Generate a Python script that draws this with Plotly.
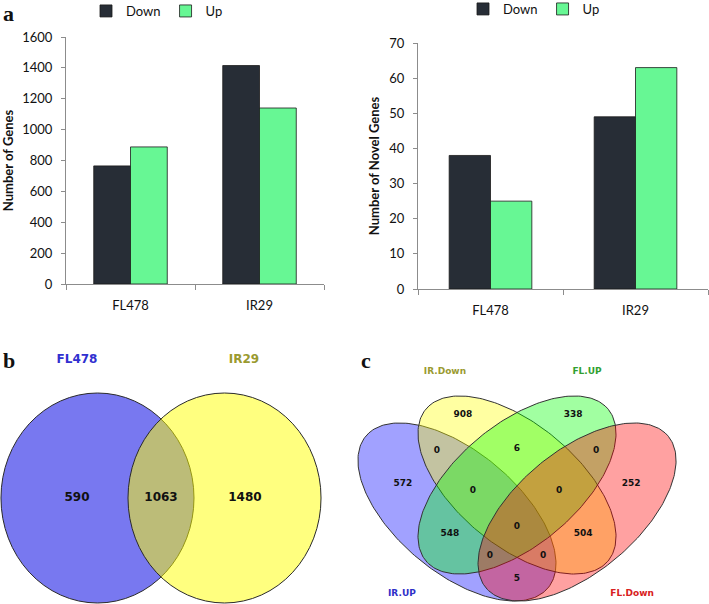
import numpy as np
import plotly.graph_objects as go

# ---------------- data ----------------
categories = ["FL478", "IR29"]
series_names = ["Down", "Up"]
genes_down = [765, 1415]
genes_up = [888, 1140]
novel_down = [38, 49]
novel_up = [25, 63]

venn2_sets = ["FL478", "IR29"]
venn2_counts = [590, 1063, 1480]          # FL478 only, both, IR29 only

venn4_sets = ["IR.UP", "IR.Down", "FL.UP", "FL.Down"]
venn4_counts = [908, 338, 0, 6, 0, 572, 0, 0, 252, 0, 548, 504, 0, 0, 5]

# ---------------- styling / layout helpers ----------------
W, H = 709, 604
C_DOWN = "#272d36"
C_UP = "#67f794"
BAR_FONT = "Lato"
VENN_FONT = "DejaVu Sans"

def px(x):
    return x / W

def py(y):
    return 1 - y / H

fig = go.Figure()

# ---------------- panel a : bars ----------------
bar_line = dict(color="#1a1a1a", width=0.8)
fig.add_trace(go.Bar(x=categories, y=genes_down, name=series_names[0], marker=dict(color=C_DOWN, line=bar_line),
                     xaxis="x", yaxis="y", legend="legend"))
fig.add_trace(go.Bar(x=categories, y=genes_up, name=series_names[1], marker=dict(color=C_UP, line=bar_line),
                     xaxis="x", yaxis="y", legend="legend"))
fig.add_trace(go.Bar(x=categories, y=novel_down, name=series_names[0], marker=dict(color=C_DOWN, line=bar_line),
                     xaxis="x2", yaxis="y2", legend="legend2"))
fig.add_trace(go.Bar(x=categories, y=novel_up, name=series_names[1], marker=dict(color=C_UP, line=bar_line),
                     xaxis="x2", yaxis="y2", legend="legend2"))

# ---------------- panel b : two-set Venn ----------------
v2_centers = [-0.658, 0.658]
v2_fill = ["#7878f0", "rgba(255,255,0,0.5)"]
v2_label_x = [-0.87, 0.0, 0.87]
v2_set_label_x = [-0.87, 0.86]
v2_set_label_y = 1.31
v2_set_colors = ["#3030d0", "#9a9a30"]

shapes = []
for cx, fc in zip(v2_centers, v2_fill):
    shapes.append(dict(type="circle", xref="x3", yref="y3", x0=cx - 1, x1=cx + 1, y0=-1, y1=1,
                       fillcolor=fc, line=dict(color="#2a2a2a", width=1), layer="below"))

fig.add_trace(go.Scatter(x=v2_label_x, y=[0, 0, 0], text=[str(v) for v in venn2_counts], mode="text",
                         textfont=dict(family=VENN_FONT, size=12, color="#111", weight="bold"),
                         xaxis="x3", yaxis="y3", showlegend=False, hoverinfo="skip"))
fig.add_trace(go.Scatter(x=v2_set_label_x, y=[v2_set_label_y] * 2, text=venn2_sets, mode="text",
                         textfont=dict(family=VENN_FONT, size=12, color=v2_set_colors, weight="bold"),
                         xaxis="x3", yaxis="y3", showlegend=False, hoverinfo="skip"))

# ---------------- panel c : four-set Venn ----------------
ell_a, ell_b = 0.373, 0.1925
ell_centers = [(0.320, 0.48), (0.5, 0.57), (0.5, 0.57), (0.680, 0.48)]
ell_dirs = [(-1, 1), (-1, 1), (1, 1), (1, 1)]
ell_fill = ["rgba(0,0,255,0.37)", "rgba(255,255,0,0.37)", "rgba(0,255,0,0.37)", "rgba(255,0,0,0.37)"]
t = np.linspace(0, 2 * np.pi, 240)
for (cx, cy), (dx, dy), fc in zip(ell_centers, ell_dirs, ell_fill):
    ux, uy = dx / np.sqrt(2), dy / np.sqrt(2)
    vx, vy = -uy, ux
    xs = cx + ell_a * np.cos(t) * ux + ell_b * np.sin(t) * vx
    ys = cy + ell_a * np.cos(t) * uy + ell_b * np.sin(t) * vy
    fig.add_trace(go.Scatter(x=xs, y=ys, mode="lines", fill="toself", fillcolor=fc,
                             line=dict(color="#333333", width=1), xaxis="x4", yaxis="y4",
                             showlegend=False, hoverinfo="skip"))

v4_label_x = [0.338, 0.668, 0.260, 0.5, 0.737, 0.158, 0.368, 0.626, 0.842, 0.5, 0.299, 0.698, 0.419, 0.578, 0.5]
v4_label_y = [0.803, 0.803, 0.683, 0.690, 0.683, 0.573, 0.550, 0.550, 0.573, 0.430, 0.407, 0.407, 0.333, 0.333, 0.257]
fig.add_trace(go.Scatter(x=v4_label_x, y=v4_label_y, text=[str(v) for v in venn4_counts], mode="text",
                         textfont=dict(family=VENN_FONT, size=9, color="#111", weight="bold"),
                         xaxis="x4", yaxis="y4", showlegend=False, hoverinfo="skip"))
v4_set_x = [0.155, 0.284, 0.710, 0.845]
v4_set_y = [0.207, 0.947, 0.947, 0.207]
v4_set_colors = ["#2f2fc8", "#9a9a30", "#30a030", "#d82020"]
fig.add_trace(go.Scatter(x=v4_set_x, y=v4_set_y, text=venn4_sets, mode="text",
                         textfont=dict(family=VENN_FONT, size=9, color=v4_set_colors, weight="bold"),
                         xaxis="x4", yaxis="y4", showlegend=False, hoverinfo="skip"))

# ---------------- layout ----------------
axis_line = "#8c8c8c"
tickfont = dict(family=BAR_FONT, size=13, color="#111")
titlefont = dict(family=BAR_FONT, size=13, color="#111", weight="bold")

def cat_axis(dom):
    return dict(domain=dom, type="category", range=[-0.5, 1.5], showline=True, linecolor=axis_line, linewidth=1,
                ticks="outside", tickson="boundaries", ticklen=5, tickcolor=axis_line, tickfont=tickfont,
                showgrid=False, zeroline=False, ticklabelstandoff=9, fixedrange=True)

def val_axis(dom, rng, dtick, title, anchor):
    return dict(domain=dom, range=rng, dtick=dtick, showline=True, linecolor=axis_line, linewidth=1,
                ticks="outside", ticklen=4, tickcolor=axis_line, tickfont=tickfont, showgrid=False,
                zeroline=False, ticklabelstandoff=6, anchor=anchor,
                title=dict(text=title, font=titlefont, standoff=6))

hidden = dict(visible=False, showgrid=False, zeroline=False, fixedrange=True)

leg_common = dict(orientation="h", xanchor="left", yanchor="top", font=dict(family=BAR_FONT, size=13, color="#111"),
                  bgcolor="rgba(0,0,0,0)", itemwidth=30, tracegroupgap=0)

panel_font = dict(family="Liberation Serif", size=22, color="#111", weight="bold")

fig.update_layout(
    width=W, height=H, autosize=False,
    margin=dict(l=0, r=0, t=0, b=0, autoexpand=False),
    paper_bgcolor="white", plot_bgcolor="white",
    barmode="group", bargap=0.43, bargroupgap=0,
    xaxis=cat_axis([px(66), px(324)]) | dict(anchor="y"),
    yaxis=val_axis([py(284), py(37)], [0, 1600], 200, "Number of Genes", "x"),
    xaxis2=cat_axis([px(418), px(708)]) | dict(anchor="y2"),
    yaxis2=val_axis([py(289), py(43)], [0, 70], 10, "Number of Novel Genes", "x2"),
    xaxis3=hidden | dict(domain=[0, px(355)], range=[-1.668, 2.010], anchor="y3"),
    yaxis3=hidden | dict(domain=[0, py(330)], range=[-1.0095, 1.6], anchor="x3"),
    xaxis4=hidden | dict(domain=[px(355), 1], range=[0.0144, 1.0755], anchor="y4"),
    yaxis4=hidden | dict(domain=[0, py(330)], range=[0.1733, 1.0867], anchor="x4"),
    legend=leg_common | dict(x=px(86), y=py(-4)),
    legend2=leg_common | dict(x=px(463), y=py(-6)),
    shapes=shapes,
    annotations=[
        dict(text="a", x=px(8), y=1, xref="paper", yref="paper", showarrow=False,
             xanchor="center", yanchor="top", font=panel_font, borderpad=0),
        dict(text="b", x=px(9), y=py(360), xref="paper", yref="paper", showarrow=False,
             xanchor="center", yanchor="middle", font=panel_font),
        dict(text="c", x=px(366), y=py(360.5), xref="paper", yref="paper", showarrow=False,
             xanchor="center", yanchor="middle", font=panel_font),
    ],
)

fig.write_html("out.html", config={"displayModeBar": False},
               post_script="document.body.style.margin='0';document.body.style.padding='0';")
